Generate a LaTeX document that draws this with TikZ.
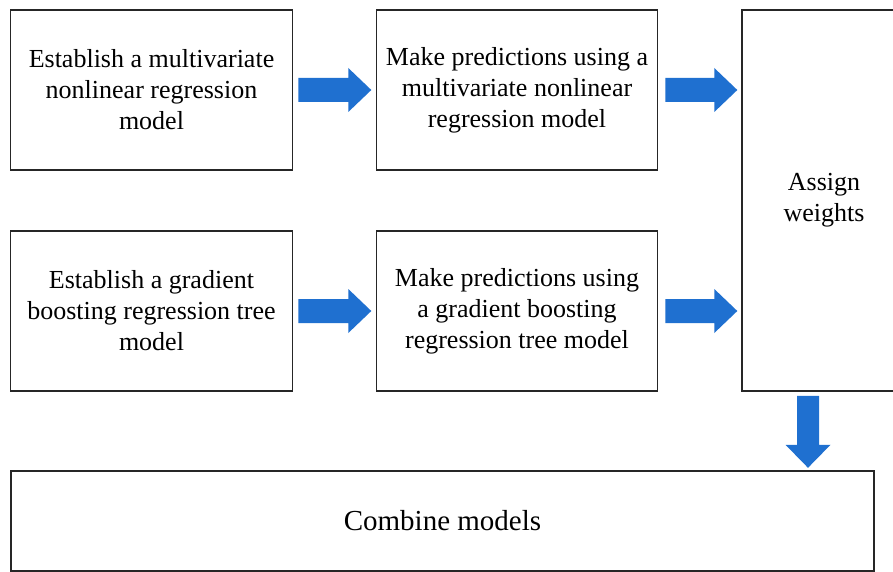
\documentclass[tikz,border=0pt]{standalone}
\usepackage{fontspec}
\setmainfont{Liberation Serif}
\usetikzlibrary{calc}
\definecolor{arrowblue}{RGB}{31,112,208}
\begin{document}
\begin{tikzpicture}[x=1pt,y=-1pt,
  box/.style={draw=black!85, line width=1.6pt, rectangle, inner sep=0pt, align=center,
    font=\fontsize{26}{31}\selectfont},
  blockarrow/.style={fill=arrowblue, draw=none}]
\clip (0,0) rectangle (893,572);
\fill[white] (0,0) rectangle (893,572);
\node[box, minimum width=282, minimum height=160] (b1) at (151.5,90)
  {Establish a multivariate\\nonlinear regression\\model};
\node[box, minimum width=281, minimum height=160] (b2) at (517,90)
  {Make predictions using a\\multivariate nonlinear\\regression model};
\node[box, minimum width=282, minimum height=160] (b4) at (151.5,311)
  {Establish a gradient\\boosting regression tree\\model};
\node[box, minimum width=281, minimum height=160] (b5) at (517,311)
  {Make predictions using\\a gradient boosting\\regression tree model};
\node[box, minimum width=164, minimum height=381] (b3) at (824,200.5)
  {Assign\\weights};
\node[box, minimum width=863, minimum height=100, font=\fontsize{29}{34}\selectfont] (b6) at (442.5,521)
  {Combine models};
% right arrows
\foreach \a/\dx/\len in {b1/5/50, b4/5/50, b2/7/49, b5/7/49}{
  \fill[blockarrow] ($(\a.east)+(\dx,-12)$) -- ++(\len,0) -- ++(0,-10) -- ++(23,22)
    -- ++(-23,22) -- ++(0,-10) -- ++(-\len,0) -- cycle;
}
% down arrow
\fill[blockarrow] ($(b3.south)+(-27,4)$) -- ++(22,0) -- ++(0,49) -- ++(11.5,0)
  -- ++(-22.5,23) -- ++(-22.5,-23) -- ++(11.5,0) -- cycle;
\end{tikzpicture}
\end{document}
